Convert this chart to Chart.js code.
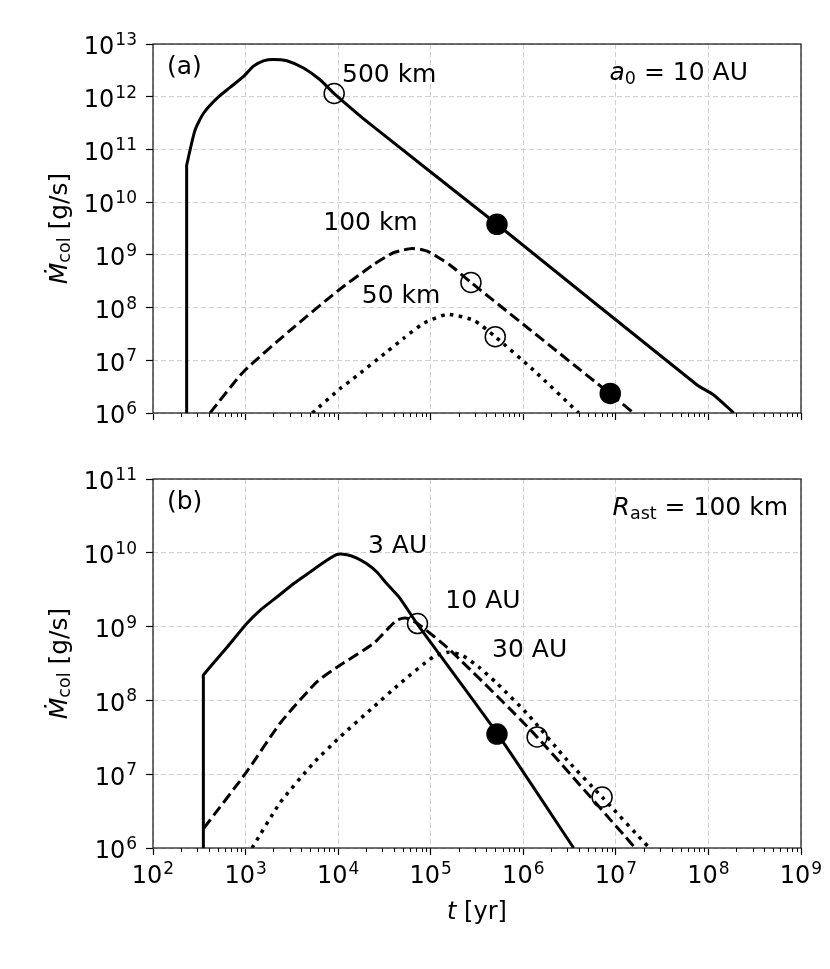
<!DOCTYPE html>
<html>
<head>
<meta charset="utf-8">
<script src="https://cdn.jsdelivr.net/npm/chart.js@4.4.1/dist/chart.umd.min.js"></script>
<style>
  body { margin: 0; background: #fff; width: 830px; height: 969px; overflow: hidden; position: relative; }
  canvas { position: absolute; left: 0; }
</style>
</head>
<body>
<canvas id="panelA" width="830" height="450" style="top:0"></canvas>
<canvas id="panelB" width="830" height="519" style="top:450px"></canvas>
<script>
// ---- values ----
// panel (a): a0 = 10 AU, asteroid radius 500 / 100 / 50 km
const tA500 = [231, 231, 231, 284, 350, 489, 679, 946, 1216, 1560, 2000, 2790, 4220, 6380, 9060, 2.4e4, 5.2e5, 7.55e7, 1.14e8, 1.88e8];
const mA500 = [1e6, 4.4e10, 5.0e10, 2.3e11, 4.8e11, 9.3e11, 1.5e12, 2.4e12, 3.8e12, 4.8e12, 5.1e12, 4.8e12, 3.5e12, 2.1e12, 1.15e12, 2.7e11, 3.8e9, 3.4e6, 2.2e6, 1e6];

const tA100 = [413, 946, 3030, 1.0e4, 2.4e4, 3.96e4, 5.0e4, 6.27e4, 7.9e4, 9.9e4, 1.6e5, 2.72e5, 8.7e6, 1.55e7];
const mA100 = [1e6, 6.0e6, 3.7e7, 2.1e8, 6.5e8, 1.1e9, 1.23e9, 1.32e9, 1.26e9, 1.1e9, 6.5e8, 3.0e8, 2.3e6, 1e6];

const tA50 = [5250, 1.05e4, 1.46e4, 3.36e4, 5.08e4, 8.36e4, 1.5e5, 2.9e5, 4.98e5, 1.29e6, 3.98e6];
const mA50 = [1e6, 2.9e6, 4.5e6, 1.45e7, 2.6e7, 5.0e7, 7.4e7, 5.75e7, 2.8e7, 6.5e6, 1e6];

const tA_open = [9060, 2.72e5, 4.98e5];
const mA_open = [1.15e12, 3.0e8, 2.8e7];
const tA_fill = [5.2e5, 8.7e6];
const mA_fill = [3.8e9, 2.35e6];

// panel (b): R_ast = 100 km, a0 = 3 / 10 / 30 AU
const tB3 = [350, 350, 350, 627, 1030, 1435, 2170, 3290, 4980, 7550, 9680, 1.24e4, 1.59e4, 2.04e4, 2.62e4, 3.36e4, 4.68e4, 7.2e4, 5.2e5, 3.5e6];
const mB3 = [1e6, 2.0e8, 2.2e8, 5.2e8, 1.1e9, 1.66e9, 2.5e9, 3.8e9, 5.5e9, 7.9e9, 9.5e9, 9.4e9, 8.5e9, 7.1e9, 5.5e9, 3.8e9, 2.4e9, 1.07e9, 3.6e7, 1e6];

const tB10 = [355, 1030, 2360, 5890, 1.05e4, 2.4e4, 4.3e4, 5.5e4, 7.2e4, 1.62e5, 1.29e6, 1.62e7];
const mB10 = [1.86e6, 1.08e7, 4.9e7, 1.78e8, 3.0e8, 5.9e8, 1.22e9, 1.3e9, 1.1e9, 4.8e8, 3.6e7, 1e6];

const tB30 = [1175, 2360, 5400, 1.05e4, 2.4e4, 4.68e4, 1.07e5, 1.58e5, 2.24e5, 3.29e5, 5.2e5, 1.14e6, 2.96e6, 7.1e6, 2.3e7];
const mB30 = [1e6, 4.1e6, 1.41e7, 3.2e7, 8.1e7, 1.7e8, 3.9e8, 4.5e8, 4.0e8, 2.84e8, 1.7e8, 6.3e7, 1.56e7, 4.9e6, 1e6];

const tB_open = [7.2e4, 1.41e6, 7.1e6];
const mB_open = [1.1e9, 3.2e7, 4.9e6];
const tB_fill = [5.2e5];
const mB_fill = [3.5e7];

// axis ticks (decades)
const xTicks = [1e2, 1e3, 1e4, 1e5, 1e6, 1e7, 1e8, 1e9];
const yTicksA = [1e6, 1e7, 1e8, 1e9, 1e10, 1e11, 1e12, 1e13];
const yTicksB = [1e6, 1e7, 1e8, 1e9, 1e10, 1e11];

// ---- helpers ----
const FONT = '"DejaVu Sans", "Liberation Sans", sans-serif';
const pts = (t, m) => t.map((v, i) => ({ x: v, y: m[i] }));
const expOf = v => String(Math.round(Math.log10(v)));

function curve(t, m, dash, width) {
  return {
    type: 'line', data: pts(t, m), order: 2,
    borderColor: '#000', borderWidth: width || 3, borderDash: dash, borderCapStyle: 'butt',
    pointRadius: 0, tension: 0.2, fill: false,
  };
}
function markers(t, m, filled) {
  return {
    type: 'line', data: pts(t, m), order: 0, showLine: false, clip: false,
    pointRadius: 10, pointBorderWidth: 1.5, pointBorderColor: '#000',
    pointBackgroundColor: filled ? '#000' : 'rgba(0,0,0,0)',
  };
}

function drawRich(ctx, parts, x, y, align, size) {
  const fonts = parts.map(p => (p.it ? 'italic ' : '') + (p.sub ? size * 0.7 : size) + 'px ' + FONT);
  const ws = parts.map((p, i) => { ctx.font = fonts[i]; return ctx.measureText(p.t).width; });
  const w = ws.reduce((a, b) => a + b, 0);
  let cx = align === 'right' ? x - w : align === 'center' ? x - w / 2 : x;
  ctx.fillStyle = '#000';
  ctx.textBaseline = 'alphabetic';
  ctx.textAlign = 'left';
  parts.forEach((p, i) => {
    ctx.font = fonts[i];
    ctx.fillText(p.t, cx, y + (p.sub ? size * 0.15 : 0));
    cx += ws[i];
  });
}

// "10" with a raised exponent; (x, y) = anchor, baseline of "10"
function drawPow(ctx, exp, x, y, align) {
  ctx.font = '24px ' + FONT;
  const wb = ctx.measureText('10').width;
  ctx.font = '17px ' + FONT;
  const we = ctx.measureText(exp).width;
  const w = wb + 1 + we;
  const x0 = align === 'right' ? x - w : x - w / 2;
  ctx.fillStyle = '#000';
  ctx.textBaseline = 'alphabetic';
  ctx.textAlign = 'left';
  ctx.font = '24px ' + FONT;
  ctx.fillText('10', x0, y);
  ctx.font = '17px ' + FONT;
  ctx.fillText(exp, x0 + wb + 1, y - 9.3);
}

// frame, minor ticks, tick labels and all text annotations
const decor = {
  id: 'decor',
  afterDraw(chart, args, opts) {
    const { ctx, chartArea: a, scales: { x, y } } = chart;
    ctx.save();
    ctx.strokeStyle = '#000';
    ctx.lineWidth = 1;
    for (let i = 0; i < xTicks.length - 1; i++) {
      for (let k = 2; k <= 9; k++) {
        const px = Math.round(x.getPixelForValue(k * xTicks[i])) + 0.5;
        ctx.beginPath(); ctx.moveTo(px, a.bottom); ctx.lineTo(px, a.bottom + 4); ctx.stroke();
      }
    }
    ctx.lineWidth = 1.2;
    ctx.strokeStyle = '#111';
    ctx.strokeRect(a.left, a.top, a.right - a.left, a.bottom - a.top);

    // tick labels
    y.ticks.forEach(tk => drawPow(ctx, expOf(tk.value), 137, y.getPixelForValue(tk.value) + 10.3, 'right'));
    if (opts.xlabel) {
      x.ticks.forEach(tk => drawPow(ctx, expOf(tk.value), x.getPixelForValue(tk.value), a.bottom + 35, 'center'));
    }

    // curve labels in data coordinates
    opts.curveLabels.forEach(l => {
      drawRich(ctx, [{ t: l.text }], x.getPixelForValue(l.t), y.getPixelForValue(l.m), 'left', 25);
    });
    // panel tag and parameter
    drawRich(ctx, [{ t: opts.tag }], a.left + 14, a.top + 30, 'left', 25);
    drawRich(ctx, opts.param, a.right - opts.paramRight, a.top + 36, 'right', 25);

    // y label
    ctx.save();
    ctx.translate(66.5, (a.top + a.bottom) / 2);
    ctx.rotate(-Math.PI / 2);
    drawRich(ctx, [{ t: 'Ṁ', it: true }, { t: 'col', sub: true }, { t: ' [g/s]' }], 0, 0, 'center', 25);
    ctx.restore();

    if (opts.xlabel) {
      drawRich(ctx, [{ t: 't', it: true }, { t: ' [yr]' }], (a.left + a.right) / 2, 468.5, 'center', 24);
    }
    ctx.restore();
  }
};

function makeChart(id, datasets, yMin, yMax, yTicks, xHeight, top, deco) {
  const grid = { color: '#d0d0d0', lineWidth: 1, tickColor: '#000', tickLength: 7, tickWidth: 1.2 };
  return new Chart(document.getElementById(id), {
    data: { datasets },
    options: {
      responsive: false, animation: false, events: [],
      layout: { padding: { top: top, right: 29, left: 0, bottom: 0 } },
      plugins: { legend: { display: false }, tooltip: { enabled: false }, decor: deco },
      scales: {
        x: {
          type: 'logarithmic', position: 'bottom', min: 1e2, max: 1e9,
          afterBuildTicks: s => { s.ticks = xTicks.map(v => ({ value: v })); },
          afterFit: s => { s.height = xHeight; },
          ticks: { display: false, autoSkip: false },
          grid: grid,
          border: { display: false, dash: [5, 3] },
        },
        y: {
          type: 'logarithmic', position: 'left', min: yMin, max: yMax,
          afterBuildTicks: s => { s.ticks = yTicks.map(v => ({ value: v })); },
          afterFit: s => { s.width = 153; },
          ticks: { display: false, autoSkip: false },
          grid: grid,
          border: { display: false, dash: [5, 3] },
        },
      },
    },
    plugins: [decor],
  });
}

makeChart('panelA', [
  markers(tA_open, mA_open, false),
  markers(tA_fill, mA_fill, true),
  curve(tA500, mA500, []),
  curve(tA100, mA100, [11, 5]),
  curve(tA50, mA50, [3.5, 5.5], 3.5),
], 1e6, 1e13, yTicksA, 450 - 413, 44, {
  tag: '(a)',
  param: [{ t: 'a', it: true }, { t: '0', sub: true }, { t: ' = 10 AU' }],
  paramRight: 53,
  curveLabels: [
    { text: '500 km', t: 1.1e4, m: 1.93e12 },
    { text: '100 km', t: 6.9e3, m: 2.95e9 },
    { text: '50 km', t: 1.8e4, m: 1.2e8 },
  ],
  xlabel: false,
});

makeChart('panelB', [
  markers(tB_open, mB_open, false),
  markers(tB_fill, mB_fill, true),
  curve(tB3, mB3, []),
  curve(tB10, mB10, [11, 5]),
  curve(tB30, mB30, [3.5, 5.5], 3.5),
], 1e6, 1e11, yTicksB, 519 - 398, 29, {
  tag: '(b)',
  param: [{ t: 'R', it: true }, { t: 'ast', sub: true }, { t: ' = 100 km' }],
  paramRight: 13,
  curveLabels: [
    { text: '3 AU', t: 2.1e4, m: 9.8e9 },
    { text: '10 AU', t: 1.44e5, m: 1.77e9 },
    { text: '30 AU', t: 4.6e5, m: 3.85e8 },
  ],
  xlabel: true,
});
</script>
</body>
</html>
